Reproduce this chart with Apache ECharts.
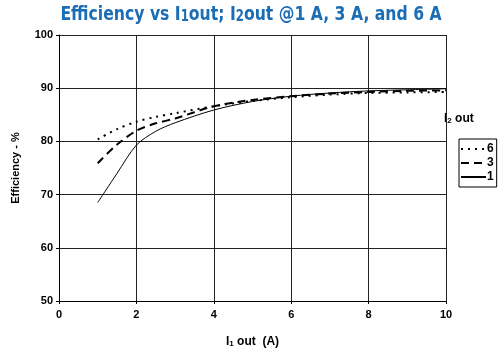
<!DOCTYPE html>
<html>
<head>
<meta charset="utf-8">
<script src="https://cdn.jsdelivr.net/npm/echarts@6/dist/echarts.min.js"></script>
<style>
  html, body { margin: 0; padding: 0; background: #fff; }
  #chart { width: 501px; height: 356px; }
</style>
</head>
<body>
<div id="chart"></div>
<script>
// Output current I1 (A)
var i1Out = [1, 1.5, 2, 2.5, 3, 4, 5, 6, 7, 8, 9, 10];
// Efficiency (%) for each I2 output current
var eff6A = [80.4, 82.3, 83.7, 84.6, 85.3, 86.6, 87.6, 88.3, 88.8, 89.1, 89.2, 89.3];
var eff3A = [75.9, 79.4, 82.0, 83.4, 84.3, 86.6, 87.8, 88.5, 89.0, 89.3, 89.5, 89.6];
var eff1A = [68.5, 74.0, 79.3, 81.9, 83.5, 85.9, 87.5, 88.5, 89.1, 89.5, 89.7, 89.9];
var seriesNames = ['6', '3', '1'];
var xTicks = [0, 2, 4, 6, 8, 10];
var yTicks = [50, 60, 70, 80, 90, 100];

function pairs(xs, ys) {
  return xs.map(function (x, i) { return [x, ys[i]]; });
}

var chart = echarts.init(document.getElementById('chart'), null, { renderer: 'canvas' });
var sans = 'Liberation Sans, Arial, sans-serif';
var labelFont = { color: '#000', fontWeight: 'bold', fontSize: 11, fontFamily: sans };
var titleBlue = '#1b6db4';
var titleFont = 'DejaVu Sans Condensed, DejaVu Sans, sans-serif';

chart.setOption({
  animation: false,
  backgroundColor: '#fff',
  graphic: [{
    type: 'text',
    x: 251, y: 3,
    scaleX: 0.87,
    style: {
      text: '{a|Efficiency vs I}{s|1}{a|out; I}{s|2}{a|out @1 A, 3 A, and 6 A}',
      align: 'center',
      rich: {
        a: { fill: titleBlue, fontSize: 20, fontWeight: 'bold', fontFamily: titleFont, verticalAlign: 'bottom', lineHeight: 22 },
        s: { fill: titleBlue, fontSize: 15, fontWeight: 'bold', fontFamily: titleFont, verticalAlign: 'bottom', lineHeight: 18, padding: [5, 0, 0, 0] }
      }
    }
  }, {
    type: 'text',
    x: 444, y: 111,
    style: {
      text: '{a|I}{s|2}{a| out}',
      rich: {
        a: { fill: '#000', fontSize: 12, fontWeight: 'bold', fontFamily: sans, verticalAlign: 'bottom', lineHeight: 14 },
        s: { fill: '#000', fontSize: 8, fontWeight: 'bold', fontFamily: sans, verticalAlign: 'bottom', lineHeight: 10, padding: [3, 0, 0, 0] }
      }
    }
  }],
  legend: {
    orient: 'vertical',
    left: 459,
    top: 139,
    itemWidth: 25,
    itemHeight: 8,
    itemGap: 2,
    padding: [4, 3, 4, 1],
    borderColor: '#000',
    borderWidth: 1,
    data: seriesNames,
    itemStyle: { opacity: 0 },
    textStyle: { color: '#000', fontWeight: 'bold', fontSize: 12, fontFamily: sans, padding: [0, 0, 0, -4] }
  },
  grid: { left: 59, right: 55, top: 35, bottom: 55, containLabel: false },
  xAxis: {
    type: 'value',
    min: 0, max: 10, interval: 2,
    name: '{a|I}{s|1}{a| out  (A)}',
    nameLocation: 'middle',
    nameGap: 33,
    nameTextStyle: {
      rich: {
        a: { color: '#000', fontSize: 12, fontWeight: 'bold', fontFamily: sans, verticalAlign: 'bottom', lineHeight: 14 },
        s: { color: '#000', fontSize: 8, fontWeight: 'bold', fontFamily: sans, verticalAlign: 'bottom', lineHeight: 10, padding: [3, 0, 0, 0] }
      }
    },
    axisLine: { onZero: false, lineStyle: { color: '#000', width: 1 } },
    axisTick: { show: true, length: 3, inside: false, lineStyle: { color: '#000' } },
    axisLabel: Object.assign({ margin: 8, formatter: function (v) { return xTicks.indexOf(v) >= 0 ? String(v) : ''; } }, labelFont),
    splitLine: { show: true, lineStyle: { color: '#222', width: 1 } }
  },
  yAxis: {
    type: 'value',
    min: 50, max: 100, interval: 10,
    name: 'Efficiency - %',
    nameLocation: 'middle',
    nameGap: 38,
    nameTextStyle: labelFont,
    axisLine: { onZero: false, lineStyle: { color: '#000', width: 1 } },
    axisTick: { show: true, length: 3, inside: false, lineStyle: { color: '#000' } },
    axisLabel: Object.assign({ margin: 6, formatter: function (v) { return yTicks.indexOf(v) >= 0 ? String(v) : ''; } }, labelFont),
    splitLine: { show: true, lineStyle: { color: '#222', width: 1 } }
  },
  series: [{
    name: '6', type: 'line', data: pairs(i1Out, eff6A), symbol: 'none', smooth: 0.3,
    lineStyle: { color: '#000', width: 2, type: [2, 5] }, itemStyle: { color: '#000' }
  }, {
    name: '3', type: 'line', data: pairs(i1Out, eff3A), symbol: 'none', smooth: 0.3,
    lineStyle: { color: '#000', width: 2, type: [8, 5] }, itemStyle: { color: '#000' }
  }, {
    name: '1', type: 'line', data: pairs(i1Out, eff1A), symbol: 'none', smooth: 0.3,
    lineStyle: { color: '#000', width: 1 }, itemStyle: { color: '#000' }
  }]
});
</script>
</body>
</html>
